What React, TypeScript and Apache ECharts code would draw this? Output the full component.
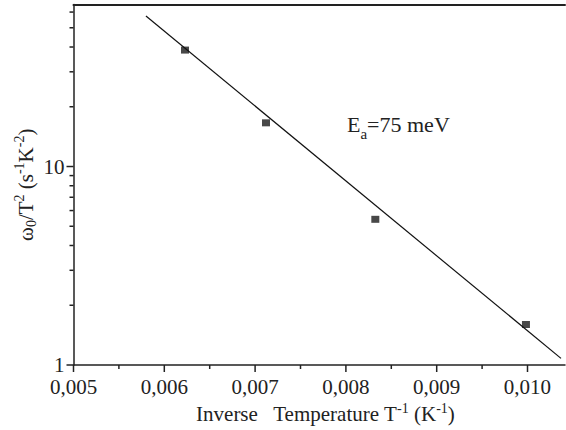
import React, { useEffect, useRef } from "react";
import * as echarts from "echarts";

const invTemp = [0.006228, 0.00712, 0.008324, 0.009983];
const omegaOverT2 = [38.6, 16.6, 5.42, 1.6];
const fitX = [0.005798, 0.010369];
const fitY = [57.3, 1.08];
const xMajorTicks = [0.005, 0.006, 0.007, 0.008, 0.009, 0.01];
const xMinorTicks = [0.0055, 0.0065, 0.0075, 0.0085, 0.0095];
const yMajorTicks = [1, 10];
const yMinorTicks = [2, 3, 4, 5, 6, 7, 8, 9, 20, 30, 40, 50, 60];
const X_MIN = 0.005;
const X_MAX = 0.010413;
const Y_MIN = 1;
const Y_MAX = 65.5;

const FONT = "'Liberation Serif', 'Times New Roman', serif";
const AXIS_COLOR = "#222";

export default function App() {
  const ref = useRef<HTMLDivElement>(null);
  useEffect(() => {
    if (!ref.current) return;
    const chart = echarts.init(ref.current, undefined, { renderer: "svg" });

    const tickData: any[] = [];
    xMajorTicks.forEach((v) => tickData.push([0, v, 7]));
    xMinorTicks.forEach((v) => tickData.push([0, v, 4]));
    yMajorTicks.forEach((v) => tickData.push([1, v, 7]));
    yMinorTicks.forEach((v) => tickData.push([1, v, 4]));

    const sup = { fontFamily: FONT, fontSize: 14, color: "#222", verticalAlign: "top", lineHeight: 26 };
    const sub = { fontFamily: FONT, fontSize: 14, color: "#222", verticalAlign: "bottom", lineHeight: 26 };
    const base = { fontFamily: FONT, fontSize: 21, color: "#222", lineHeight: 26 };

    chart.setOption({
      animation: false,
      grid: { left: 73.5, right: 1, top: 4.5, bottom: 65, outerBoundsMode: "none" },
      xAxis: [
        {
          type: "value",
          min: X_MIN,
          max: X_MAX,
          interval: 0.001,
          splitLine: { show: false },
          axisLine: { lineStyle: { color: AXIS_COLOR, width: 1.5 } },
          axisTick: { show: false },
          axisLabel: {
            fontFamily: FONT,
            fontSize: 21,
            lineHeight: 16,
            color: "#222",
            margin: 14,
            showMaxLabel: false,
            formatter: (v: number) => {
              const ok = xMajorTicks.some((t) => Math.abs(t - v) < 1e-9);
              return ok ? v.toFixed(3).replace(".", ",") : "";
            },
          },
          name: "Inverse   Temperature T{sup|-1} (K{sup|-1})",
          nameLocation: "middle",
          nameGap: 36,
          nameMoveOverlap: false,
          nameTextStyle: { ...base, padding: [0, 0, 0, 12], rich: { sup } },
        },
        {
          type: "value",
          position: "top",
          min: X_MIN,
          max: X_MAX,
          axisLine: { lineStyle: { color: AXIS_COLOR, width: 2 } },
          axisTick: { show: false },
          axisLabel: { show: false },
          splitLine: { show: false },
        },
      ],
      yAxis: {
        type: "log",
        logBase: 10,
        min: Y_MIN,
        max: Y_MAX,
        splitLine: { show: false },
        axisLine: { lineStyle: { color: AXIS_COLOR, width: 1.5 } },
        axisTick: { show: false },
        axisLabel: {
          fontFamily: FONT,
          fontSize: 21,
          lineHeight: 16,
          color: "#222",
          margin: 9,
          formatter: (v: number) => (yMajorTicks.some((t) => Math.abs(t - v) < 1e-6) ? String(Math.round(v)) : ""),
        },
        name: "ω{sub|0}/T{sup|2} (s{sup|-1}K{sup|-2})",
        nameLocation: "middle",
        nameRotate: 90,
        nameGap: 35,
        nameMoveOverlap: false,
        nameTextStyle: { ...base, rich: { sup, sub } },
      },
      series: [
        {
          type: "line",
          data: fitX.map((x, i) => [x, fitY[i]]),
          showSymbol: false,
          symbol: "none",
          lineStyle: { color: "#111", width: 1.2 },
          silent: true,
        },
        {
          type: "scatter",
          data: invTemp.map((x, i) => [x, omegaOverT2[i]]),
          symbol: "rect",
          symbolSize: [8, 7],
          itemStyle: { color: "#1a1a1a" },
        },
        {
          type: "custom",
          clip: false,
          silent: true,
          data: tickData,
          renderItem: (params: any, api: any) => {
            const kind = api.value(0);
            const v = api.value(1);
            const len = api.value(2);
            if (kind === 0) {
              const p = api.coord([v, Y_MIN]);
              return {
                type: "line",
                shape: { x1: p[0], y1: p[1], x2: p[0], y2: p[1] + len },
                style: { stroke: AXIS_COLOR, lineWidth: 1.5 },
              };
            }
            const p = api.coord([X_MIN, v]);
            return {
              type: "line",
              shape: { x1: p[0] - len, y1: p[1], x2: p[0], y2: p[1] },
              style: { stroke: AXIS_COLOR, lineWidth: 1.5 },
            };
          },
        },
      ],
      graphic: [
        {
          type: "text",
          left: 347,
          top: 108,
          style: {
            text: "E{sub|a}=75 meV",
            fontFamily: FONT,
            fontSize: 22,
            fill: "#222",
            lineHeight: 27,
            rich: { sub: { fontFamily: FONT, fontSize: 15, fill: "#222", verticalAlign: "bottom", lineHeight: 33 } },
          },
        },
      ],
    });
    return () => chart.dispose();
  }, []);
  return <div ref={ref} style={{ width: 566, height: 430, position: "absolute", left: 0, top: 0 }} />;
}
